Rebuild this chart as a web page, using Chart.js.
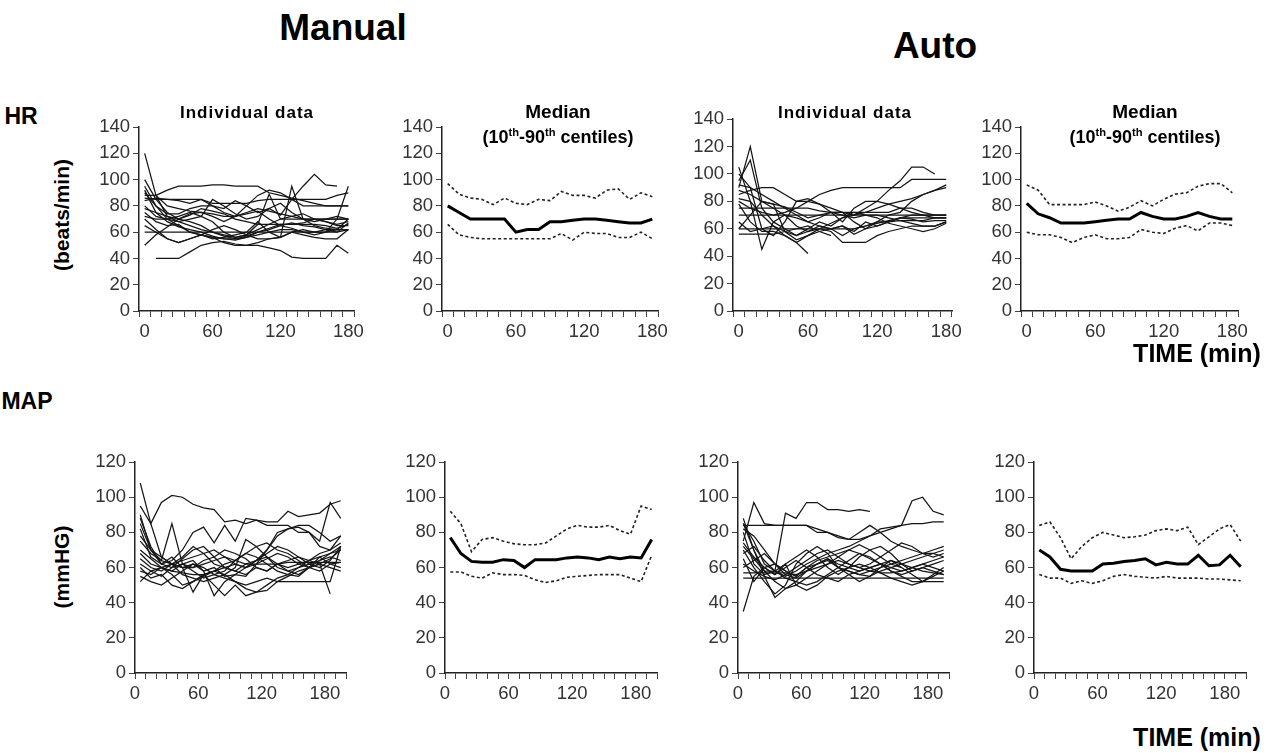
<!DOCTYPE html>
<html>
<head>
<meta charset="utf-8">
<script src="https://cdn.jsdelivr.net/npm/chart.js@4.4.0/dist/chart.umd.min.js"></script>
<style>
  body { margin: 0; background: #fff; width: 1278px; height: 753px; overflow: hidden; position: relative;
         font-family: "Liberation Sans", Arial, sans-serif; }
  canvas { position: absolute; }
  .t { position: absolute; white-space: nowrap; color: #000; font-weight: bold; transform: translate(-50%, -50%); }
  .t sup { font-size: 0.62em; vertical-align: 0.55em; line-height: 0; }
</style>
</head>
<body>
<script>
// ---- data -----------------------------------------------------------
const hrTimes = [0, 10, 20, 30, 40, 50, 60, 70, 80, 90, 100, 110, 120, 130, 140, 150, 160, 170, 180];
const mapTimes = [5, 15, 25, 35, 45, 55, 65, 75, 85, 95, 105, 115, 125, 135, 145, 155, 165, 175, 185, 195];
const xTickLabels = [0, 60, 120, 180];

// HR, manual group, one list per patient
const hrManualPatients = [
  [120, 88, 80, 78, 76, 75, 74, 72, 72, 75, 78, 76, 74, 72, 70, 70, 68, 66, 68],
  [null, 40, 40, 40, 45, 50, 52, 53, 51, 50, 50, 48, 46, 41, 40, 40, 40, 50, 44],
  [null, 88, 92, 95, 95, 95, 96, 96, 95, 95, 95, 90, 88, 86, 84, 82, 80, 80, 80],
  [84, 86, 85, 84, 82, 85, 80, 78, 84, 80, 75, 78, 73, 85, 95, 104, 96, 95, null],
  [86, 85, 85, 85, 85, 85, 82, 82, 82, 82, 84, 85, 85, 85, 85, 85, 85, 88, 90],
  [100, 85, 75, 70, 68, 65, 60, 57, 55, 56, 60, 62, 65, 67, 65, 64, 62, 60, 62],
  [95, 80, 70, 65, 60, 58, 56, 55, 55, 57, 60, 63, 66, 66, 67, 70, 70, 70, 70],
  [50, 58, 64, 70, 74, 75, 72, 68, 72, 74, 76, 70, 65, 63, 60, 60, 60, 62, 70],
  [70, 62, 55, 52, 55, 58, 56, 52, 50, 50, 52, 55, 56, 60, 58, 56, 55, 55, 62],
  [88, 88, 72, 68, 70, 72, 85, 80, 74, 70, 72, 78, 82, 75, 70, 68, 70, 72, 70],
  [80, 72, 70, 72, 75, 72, 68, 60, 56, 58, 66, 89, 70, 72, 74, 70, 68, 65, 65],
  [75, 68, 65, 66, 60, 58, 55, 56, 58, 60, 68, 60, 56, 95, 70, 65, 63, 62, 62],
  [60, 60, 60, 60, 60, 60, 60, 60, 60, 60, 60, 60, 60, 60, 60, 60, 62, 62, 62],
  [72, 70, 70, 68, 65, 62, 60, 58, 56, 58, 62, 66, 70, 70, 70, 70, 70, 70, 70],
  [90, 80, 74, 74, 78, 80, 80, 75, 72, 80, 88, 92, 90, 85, 80, 80, 80, 80, 80],
  [78, 75, 72, 70, 73, 78, 76, 74, 70, 68, 66, 66, 66, 66, 66, 66, 65, 63, 66],
  [65, 60, 55, 52, 55, 58, 62, 65, 62, 58, 55, 55, 56, 60, 62, 60, 60, 60, 67],
  [92, 75, 68, 64, 62, 60, 57, 55, 54, 56, 58, 60, 62, 62, 60, 58, 60, 70, 95]
];
const hrManualMedian = [80, 75, 70, 70, 70, 70, 60, 62, 62, 68, 68, 69, 70, 70, 69, 68, 67, 67, 70];
const hrManualP90 = [97, 89, 86, 85, 81, 86, 82, 81, 85, 84, 91, 88, 88, 86, 92, 93, 85, 90, 87];
const hrManualP10 = [66, 58, 56, 55, 55, 55, 55, 55, 55, 55, 59, 54, 60, 59, 59, 56, 56, 60, 55];

// HR, auto group
const hrAutoPatients = [
  [90, 120, 80, 75, 70, 68, 65, 62, 60, 62, 58, 65, 62, 65, 66, 66, 66, 68, 68],
  [95, 110, 75, 65, 60, 55, 58, 62, 60, 55, 60, 62, 65, 65, 68, 70, 70, 70, 70],
  [105, 80, 45, 65, 70, 62, 58, 60, 64, 68, 70, 75, 80, 88, 95, 105, 105, 100, null],
  [80, 75, 72, 70, 72, 75, 80, 85, 88, 90, 90, 90, 90, 90, 90, 96, 96, 96, 96],
  [85, 88, 90, 90, 85, 80, 80, 78, 75, 72, 70, 72, 75, 78, 80, 82, 85, 88, 92],
  [60, 70, 80, 78, 58, 52, 55, 60, 58, 50, 50, 50, 55, 58, 60, 62, 62, 62, 65],
  [78, 65, 58, 58, 55, 50, 42, null, null, null, null, null, null, null, null, null, null, null, null],
  [56, 56, 56, 56, 58, 60, 62, 58, 55, null, null, null, null, null, null, null, null, null, null],
  [70, 70, 70, 70, 70, 70, 70, 70, 70, 70, 70, 70, 70, 70, 70, 70, 70, 70, 70],
  [75, 75, 75, 75, 75, 75, 75, 73, 72, 72, 72, 72, 72, 72, 75, 75, 72, 70, 70],
  [100, 90, 85, 80, 75, 70, 65, 68, 72, 72, 65, 60, 62, 65, 68, 67, 65, 66, 66],
  [92, 90, 60, 55, 65, 80, 82, 78, 72, 65, 75, 80, 80, 78, 75, 72, 70, 68, 68],
  [65, 58, 60, 62, 58, 55, 60, 65, 62, 68, 72, 70, 68, 64, 62, 60, 58, 60, 64],
  [82, 80, 70, 62, 55, 50, 55, 58, 60, 62, 56, 60, 65, 70, 72, 80, 85, 88, 90],
  [88, 85, 80, 78, 76, 72, 68, 70, 72, 70, 68, 70, 70, 68, 66, 64, 62, 62, 65],
  [60, 60, 60, 60, 60, 60, 60, 60, 60, 60, 60, 62, 64, 66, 68, 68, 68, 68, 68]
];
const hrAutoMedian = [82, 74, 71, 67, 67, 67, 68, 69, 70, 70, 75, 72, 70, 70, 72, 75, 72, 70, 70];
const hrAutoP90 = [96, 92, 81, 81, 81, 81, 83, 80, 76, 79, 84, 80, 85, 89, 90, 95, 97, 97, 90];
const hrAutoP10 = [60, 58, 58, 56, 52, 56, 58, 55, 55, 56, 62, 60, 59, 63, 65, 61, 67, 67, 65];

// MAP, manual group
const mapManualPatients = [
  [95, 85, 97, 101, 100, 96, 94, 93, 86, 87, 85, 87, 86, 86, 92, 89, 90, 91, 96, 98],
  [108, 85, 66, 62, 60, 62, 58, 60, 55, 56, 55, 62, 70, 80, 82, 83, 80, 75, 97, 88],
  [90, 70, 64, 85, 62, 60, 64, 66, 70, 68, 65, 60, 58, 62, 64, 66, 62, 60, 64, 72],
  [88, 72, 62, 64, 70, 80, 83, 74, 84, 75, 88, 87, 84, 84, 84, 80, 80, 72, 70, 78],
  [82, 66, 62, 66, 60, 46, 56, 50, 44, 50, 44, 46, 47, 52, 55, 58, 60, 62, 45, null],
  [70, 65, 60, 58, 62, 64, 58, 44, 52, 56, 60, 62, 65, 68, 66, 62, 60, 62, 65, 70],
  [62, 58, 55, 60, 65, 70, 72, 66, 60, 58, 62, 64, 66, 60, 58, 56, 60, 64, 66, 64],
  [55, 52, 50, 54, 58, 62, 60, 56, 54, 52, 50, 52, 54, 52, 52, 52, 52, 52, 52, 72],
  [52, 58, 60, 56, 50, 52, 55, 58, 62, 64, 68, 72, 74, 70, 68, 64, 60, 58, 62, 63],
  [75, 68, 64, 62, 60, 60, 62, 64, 66, 64, 62, 62, 62, 62, 63, 63, 63, 63, 63, 63],
  [68, 62, 60, 58, 57, 56, 56, 58, 60, 62, 60, 64, 68, 72, 70, 66, 64, 68, 70, 74],
  [58, 56, 60, 62, 56, 54, 52, 54, 56, 60, 76, 72, 66, 62, 58, 60, 64, 62, 60, 58],
  [78, 70, 66, 62, 64, 66, 68, 70, 66, 62, 60, 64, 70, 78, 82, 84, 84, 80, 75, 78],
  [85, 70, 62, 60, 62, 58, 54, 56, 58, 64, 68, 66, 62, 58, 56, 55, 60, 66, 68, 70],
  [65, 60, 58, 62, 66, 72, 68, 62, 60, 58, 56, 60, 58, 62, 60, 62, 64, 66, 62, 60],
  [60, 54, 56, 50, 48, 52, 56, 58, 56, 52, 48, 46, 50, 54, 56, 60, 62, 64, 68, 72]
];
const mapManualMedian = [77, 68, 63.5, 63, 63, 64.5, 64, 60, 64.5, 64.5, 64.5, 65.5, 66, 65.5, 64.5, 66, 65, 66, 65.5, 76];
const mapManualP90 = [92, 85, 69, 76, 77, 75, 73.5, 73, 73, 74, 78, 82, 84, 83, 83, 84, 81, 79, 95, 93];
const mapManualP10 = [57.5, 57.5, 55, 54, 57, 56, 56, 55.5, 53, 51.5, 52.5, 54.5, 55, 55.5, 56, 56, 56, 54, 52, 67];

// MAP, auto group
const mapAutoPatients = [
  [35, 55, 60, 62, 58, 55, 60, 62, 65, 62, 60, 58, 60, 62, 60, 58, 60, 62, 60, 58],
  [75, 97, 85, 84, 84, 84, 84, 80, 80, 77, 76, 80, 84, 80, 75, 72, 70, 68, 68, 66],
  [72, 65, 58, 58, 91, 88, 97, 97, 93, 93, 92, 93, 92, null, null, null, null, null, null, null],
  [84, 84, 84, 84, 84, 84, 84, 82, 80, 78, 76, 76, 78, 82, 83, 84, 98, 100, 92, 90],
  [85, 75, 62, 58, 55, 58, 62, 65, 68, 70, 72, 75, 78, 80, 82, 84, 85, 85, 86, 86],
  [54, 54, 54, 54, 54, 54, 54, 54, 54, 54, 54, 54, 54, 54, 54, 54, 54, 54, 54, 54],
  [57, 57, 57, 57, 57, 56, 58, 60, 62, 64, 62, 60, 58, 57, 57, 58, 60, 62, 64, 66],
  [88, 70, 55, 43, 48, 52, 58, 62, 65, 60, 58, 56, 55, 58, 60, 62, 64, 66, 68, 70],
  [70, 60, 52, 45, 50, 62, 68, 72, 68, 60, 56, 52, 55, 60, 64, 60, 56, 52, 55, 58],
  [65, 52, 60, 56, 62, 50, 47, 50, 55, 58, 60, 62, 60, 57, 54, 52, 50, 52, 56, 60],
  [80, 62, 56, 58, 62, 66, 70, 66, 60, 56, 60, 66, 70, 72, 68, 62, 58, 60, 62, 64],
  [62, 58, 55, 53, 56, 60, 64, 68, 70, 66, 62, 60, 62, 66, 70, 74, 72, 68, 66, 68],
  [68, 72, 64, 58, 54, 52, 50, 52, 56, 60, 64, 68, 66, 62, 58, 56, 58, 60, 58, 56],
  [74, 66, 60, 56, 60, 64, 60, 56, 54, 52, 56, 58, 60, 62, 64, 62, 60, 58, 57, 56],
  [82, 78, 70, 62, 58, 55, 60, 64, 66, 68, 70, 68, 65, 62, 58, 55, 52, 52, 52, 52],
  [60, 64, 68, 62, 56, 54, 58, 62, 64, 60, 58, 56, 58, 60, 62, 64, 66, 68, 70, 72],
  [85, 70, 58, 52, 48, 50, 54, 58, 62, 66, 70, 73, 70, 66, 62, 60, null, null, null, null]
];
const mapAutoMedian = [70, 66, 59, 58, 58, 58, 62, 62.5, 63.5, 64, 65, 61.5, 63, 62, 62, 67, 61, 61.5, 67, 60.5];
const mapAutoP90 = [84, 86, 77, 65, 72, 77, 80, 78.5, 77, 77.5, 78.5, 81, 82, 81, 83, 73, 77.5, 82, 84.5, 75];
const mapAutoP10 = [56, 54, 54, 51, 52.5, 51, 52.5, 55, 56, 55, 54.5, 54, 55, 54, 54, 54, 53.5, 53.5, 53, 52.5];

// ---- drawing --------------------------------------------------------
const FONT = '"Liberation Sans", Arial, sans-serif';
const YW = 46;   // fixed width of the y axis block
const XH = 36;   // fixed height of the x axis block
const PT = 12, PR = 18;
const TICK_SIZE = 18.5;

function text(html, x, y, size, extra) {
  const d = document.createElement('div');
  d.className = 't';
  d.innerHTML = html;
  d.style.left = x + 'px';
  d.style.top = y + 'px';
  d.style.fontSize = size + 'px';
  if (extra) Object.assign(d.style, extra);
  document.body.appendChild(d);
}

function toXY(values) {
  return values.map((v, i) => ({ x: mapTimes[i], y: v }));
}

function individualSets(list, isMap) {
  return list.map(vals => ({
    data: isMap ? toXY(vals) : vals,
    borderColor: '#151515',
    borderWidth: 1.25,
    pointRadius: 0,
    spanGaps: false
  }));
}

function medianSets(med, p90, p10, isMap) {
  const conv = v => isMap ? toXY(v) : v;
  return [
    { data: conv(med), borderColor: '#000', borderWidth: 3, pointRadius: 0 },
    { data: conv(p90), borderColor: '#222', borderWidth: 1.6, borderDash: [3, 2.5], pointRadius: 0 },
    { data: conv(p10), borderColor: '#222', borderWidth: 1.6, borderDash: [3, 2.5], pointRadius: 0 }
  ];
}

function xAxis(isMap) {
  const axis = {
    grid: { drawOnChartArea: false, drawTicks: true, tickLength: 6, color: '#444', lineWidth: 1 },
    border: { display: true, color: '#222', width: 1.5 },
    ticks: { autoSkip: false, maxRotation: 0, color: '#333', padding: 4,
             font: { size: TICK_SIZE, family: FONT } },
    afterFit: s => { s.height = XH; }
  };
  if (isMap) {
    axis.type = 'linear';
    axis.min = 0;
    axis.max = 200;
    axis.ticks.stepSize = 10;
    axis.ticks.maxTicksLimit = 30;
    axis.ticks.callback = v => xTickLabels.includes(v) ? String(v) : '';
  } else {
    axis.type = 'category';
    axis.offset = true;
    axis.grid.offset = true;
    axis.ticks.callback = (v, i) => xTickLabels.includes(hrTimes[i]) ? String(hrTimes[i]) : '';
  }
  return axis;
}

function yAxis(max) {
  return {
    min: 0, max: max,
    grid: { drawOnChartArea: false, drawTicks: true, tickLength: 6, color: '#444', lineWidth: 1 },
    border: { display: true, color: '#222', width: 1.5 },
    ticks: { stepSize: 20, color: '#333', padding: 3, font: { size: TICK_SIZE, family: FONT } },
    afterFit: s => { s.width = YW; }
  };
}

// box: x0/x1 = left/right of the plot area, yt/yb = top (max) and bottom (0)
function panel(box, isMap, yMax, datasets) {
  const c = document.createElement('canvas');
  const w = box.x1 - box.x0 + YW + PR;
  const h = box.yb - box.yt + PT + XH;
  c.width = w; c.height = h;
  c.style.left = (box.x0 - YW) + 'px';
  c.style.top = (box.yt - PT) + 'px';
  c.style.width = w + 'px';
  c.style.height = h + 'px';
  document.body.appendChild(c);
  new Chart(c, {
    type: 'line',
    data: { labels: isMap ? undefined : hrTimes.map(String), datasets: datasets },
    options: {
      responsive: false,
      animation: false,
      layout: { padding: { top: PT, right: PR, left: 0, bottom: 0 } },
      plugins: { legend: { display: false }, tooltip: { enabled: false } },
      elements: { line: { tension: 0 } },
      scales: { x: xAxis(isMap), y: yAxis(yMax) }
    }
  });
}

// HR row
panel({ x0: 139, x1: 354, yt: 125, yb: 311 }, false, 140, individualSets(hrManualPatients, false));
panel({ x0: 442, x1: 658, yt: 125, yb: 311 }, false, 140, medianSets(hrManualMedian, hrManualP90, hrManualP10, false));
panel({ x0: 733, x1: 952, yt: 117, yb: 311 }, false, 140, individualSets(hrAutoPatients, false));
panel({ x0: 1021, x1: 1238, yt: 125, yb: 311 }, false, 140, medianSets(hrAutoMedian, hrAutoP90, hrAutoP10, false));

// MAP row
panel({ x0: 135, x1: 346, yt: 460, yb: 673 }, true, 120, individualSets(mapManualPatients, true));
panel({ x0: 445, x1: 657, yt: 460, yb: 673 }, true, 120, medianSets(mapManualMedian, mapManualP90, mapManualP10, true));
panel({ x0: 738, x1: 949, yt: 460, yb: 673 }, true, 120, individualSets(mapAutoPatients, true));
panel({ x0: 1034, x1: 1246, yt: 460, yb: 673 }, true, 120, medianSets(mapAutoMedian, mapAutoP90, mapAutoP10, true));

// titles and labels
text('Manual', 343, 28, 37);
text('Auto', 935, 46, 37);
text('HR', 21, 116, 23);
text('MAP', 27, 401, 23);
text('(beats/min)', 62, 215, 21, { transform: 'translate(-50%, -50%) rotate(-90deg)' });
text('(mmHG)', 62, 567, 21, { transform: 'translate(-50%, -50%) rotate(-90deg)' });
text('Individual data', 247, 113, 17, { letterSpacing: '1px' });
text('Individual data', 845, 113, 17, { letterSpacing: '1px' });
text('Median', 558, 112, 19);
text('(10<sup>th</sup>-90<sup>th</sup> centiles)', 558, 137, 18);
text('Median', 1145, 112, 19);
text('(10<sup>th</sup>-90<sup>th</sup> centiles)', 1145, 137, 18);
text('TIME (min)', 1197, 353, 25);
text('TIME (min)', 1197, 737, 25);
</script>
</body>
</html>
